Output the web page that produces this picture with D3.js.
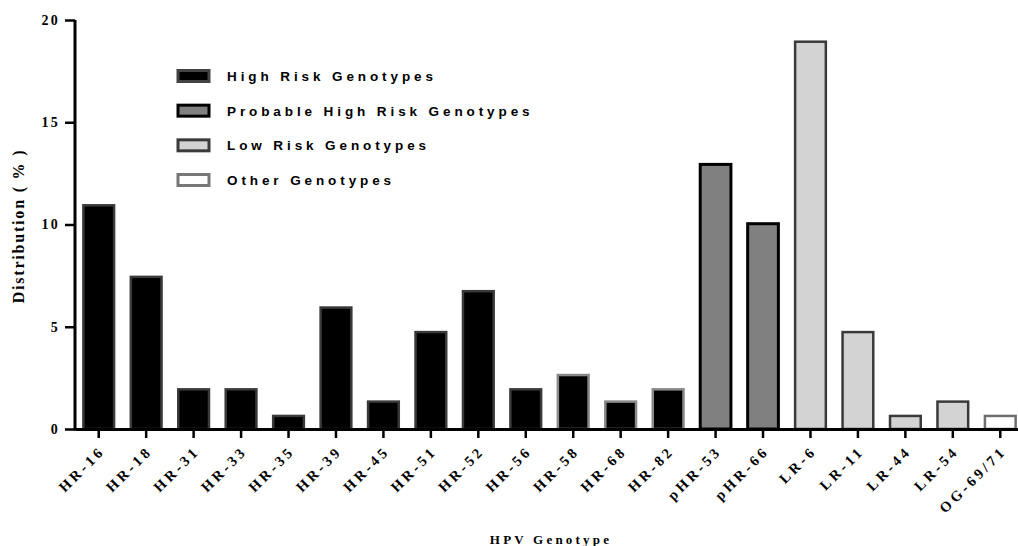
<!DOCTYPE html>
<html>
<head>
<meta charset="utf-8">
<script src="https://cdn.jsdelivr.net/npm/d3@7/dist/d3.min.js"></script>
<style>
  body { margin: 0; background: #fff; }
  .axis path, .axis line { stroke: #000; }
  .axis text { font-family: 'Liberation Serif', serif; font-weight: bold; fill: #000; }
  .legend text { font-family: 'Liberation Sans', Arial, sans-serif; font-weight: bold; font-size: 13.5px; letter-spacing: 3.9px; }
</style>
</head>
<body>
<svg id="chart" width="1018" height="546"></svg>
<script>
// data
const genotypes = ['HR-16', 'HR-18', 'HR-31', 'HR-33', 'HR-35', 'HR-39', 'HR-45', 'HR-51', 'HR-52', 'HR-56',
  'HR-58', 'HR-68', 'HR-82', 'pHR-53', 'pHR-66', 'LR-6', 'LR-11', 'LR-44', 'LR-54', 'OG-69/71'];
const distribution = [11.0, 7.5, 2.0, 2.0, 0.7, 6.0, 1.4, 4.8, 6.8, 2.0,
  2.7, 1.4, 2.0, 13.0, 10.1, 19.0, 4.8, 0.7, 1.4, 0.7];
const riskGroup = ['HR', 'HR', 'HR', 'HR', 'HR', 'HR', 'HR', 'HR', 'HR', 'HR',
  'HR', 'HR', 'HR', 'pHR', 'pHR', 'LR', 'LR', 'LR', 'LR', 'OG'];
const groupKeys = ['HR', 'pHR', 'LR', 'OG'];
const groupNames = ['High Risk Genotypes', 'Probable High Risk Genotypes', 'Low Risk Genotypes', 'Other Genotypes'];
const yTicks = [0, 5, 10, 15, 20];

// styles
const fills = { HR: '#000', pHR: '#808080', LR: '#d3d3d3', OG: '#fff' };
const strokes = { HR: '#3a3a3a', pHR: '#000', LR: '#3a3a3a', OG: '#6e6e6e' };
const lightOutline = new Set(['HR-58', 'HR-68', 'HR-82']);

const MARGIN = { top: 20, right: -6, bottom: 117, left: 75 };
const W = 1018, H = 546;
const w = W - MARGIN.left - MARGIN.right, h = H - MARGIN.top - MARGIN.bottom;

const svg = d3.select('#chart');
const g = svg.append('g').attr('transform', 'translate(' + MARGIN.left + ',' + MARGIN.top + ')');

const data = genotypes.map((d, i) => ({ name: d, value: distribution[i], group: riskGroup[i] }));

const x = d3.scaleBand().domain(genotypes).range([0, w]).paddingInner(0.3).paddingOuter(0.15);
const y = d3.scaleLinear().domain([0, 20]).range([h, 0]);

// bars
g.append('g')
  .selectAll('rect')
  .data(data)
  .enter()
  .append('rect')
  .attr('x', d => x(d.name) + 1.25)
  .attr('width', x.bandwidth() - 2.5)
  .attr('y', d => y(d.value) + 1.25)
  .attr('height', d => y(0) - y(d.value) - 1.25)
  .attr('fill', d => fills[d.group])
  .attr('stroke', d => lightOutline.has(d.name) ? '#888' : strokes[d.group])
  .attr('stroke-width', d => d.group === 'pHR' ? 3 : 2.5);

// y axis
const yAxis = g.append('g')
  .attr('class', 'axis')
  .call(d3.axisLeft(y).tickValues(yTicks).tickSize(10).tickPadding(7));
yAxis.select('.domain').attr('stroke-width', 3).attr('d', 'M0,' + (h + 1.5) + 'V' + y(20));
yAxis.selectAll('.tick line').attr('stroke-width', 2.5);
yAxis.selectAll('.tick text').style('font-size', '14px').style('letter-spacing', '2.2px').attr('dx', '2');

// x axis
const xAxis = g.append('g')
  .attr('class', 'axis')
  .attr('transform', 'translate(0,' + h + ')')
  .call(d3.axisBottom(x).tickSize(9).tickSizeOuter(0));
xAxis.select('.domain').attr('stroke-width', 3);
xAxis.selectAll('.tick line').attr('stroke-width', 2.5);
xAxis.selectAll('.tick text')
  .style('font-size', '14.5px')
  .style('letter-spacing', '3.4px')
  .attr('text-anchor', 'end')
  .attr('transform', 'translate(7,23) rotate(-45)')
  .attr('dy', 0)
  .attr('y', 0)
  .attr('x', 0);

// axis titles
svg.append('text')
  .attr('transform', 'translate(23.5,' + 226 + ') rotate(-90)')
  .attr('text-anchor', 'middle')
  .style('font-family', "'Liberation Serif', serif")
  .style('font-weight', 'bold')
  .style('font-size', '16px')
  .style('letter-spacing', '1.8px')
  .text('Distribution ( % )');

svg.append('text')
  .attr('x', 551)
  .attr('y', 544)
  .attr('text-anchor', 'middle')
  .style('font-family', "'Liberation Serif', serif")
  .style('font-weight', 'bold')
  .style('font-size', '13px')
  .style('letter-spacing', '3.2px')
  .text('HPV Genotype');

// legend
const legend = svg.append('g').attr('class', 'legend').attr('transform', 'translate(178,76)');
const rowY = d3.scalePoint().domain(groupKeys).range([0, 104]);
const item = legend.selectAll('g')
  .data(groupKeys)
  .enter()
  .append('g')
  .attr('transform', d => 'translate(0,' + rowY(d) + ')');
item.append('rect')
  .attr('x', 0)
  .attr('y', -5.5)
  .attr('width', 31)
  .attr('height', 11)
  .attr('fill', d => fills[d])
  .attr('stroke', d => d === 'HR' ? '#444' : (d === 'OG' ? '#777' : strokes[d]))
  .attr('stroke-width', 3);
item.append('text')
  .attr('x', 49)
  .attr('dy', '0.36em')
  .text((d, i) => groupNames[i]);
</script>
</body>
</html>
